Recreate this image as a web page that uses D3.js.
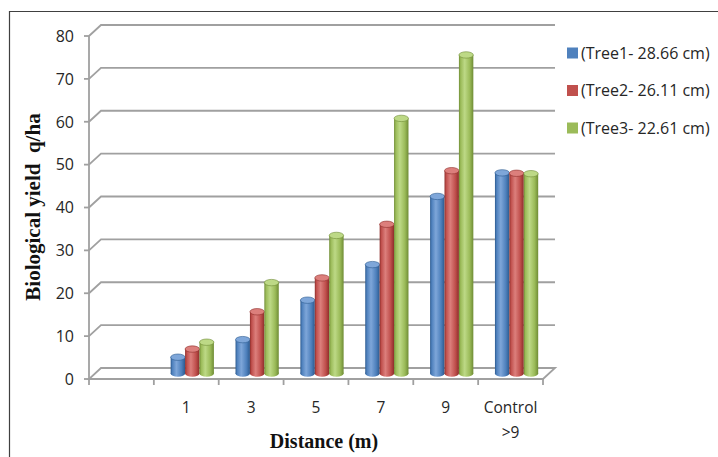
<!DOCTYPE html>
<html><head><meta charset="utf-8">
<script src="https://cdn.jsdelivr.net/npm/d3@7"></script>
<style>body{margin:0;background:#fff}svg{display:block}</style>
</head><body>
<svg id="c" width="718" height="457"></svg>
<script>
const categories = ["", "1", "3", "5", "7", "9", "Control\n>9"];
const seriesNames = ["(Tree1- 28.66 cm)", "(Tree2- 26.11 cm)", "(Tree3- 22.61 cm)"];
const tree1 = [null, 3.8, 7.9, 17.1, 25.4, 41.3, 46.8];
const tree2 = [null, 5.7, 14.4, 22.3, 34.8, 47.3, 46.7];
const tree3 = [null, 7.3, 21.2, 32.2, 59.5, 74.3, 46.6];
const yTicks = [0, 10, 20, 30, 40, 50, 60, 70, 80];
const colors = ["#4f81bd", "#c0504d", "#9bbb59"];
const darks = ["#2c5a8f", "#8e2d2a", "#6f8c35"];
const lights = ["#7ea6d9", "#dc7f7c", "#bdd986"];

const svg = d3.select("#c");
const DX = 12, DY = -11;
const x = d3.scaleBand().domain(categories).range([89, 543]);
const y = d3.scaleLinear().domain([0, 80]).range([379, 36]);
const bw = x.bandwidth();

// border
svg.append("path").attr("d", "M9.5,457 V11.5 H718").attr("fill", "none").attr("stroke", "#404040").attr("stroke-width", 1.2);

const grid = svg.append("g").attr("stroke", "#a0a0a0").attr("stroke-width", 1.8).attr("fill", "none");
yTicks.forEach(t => {
  const yy = y(t);
  if (t > 0) grid.append("path").attr("d", `M89,${yy} L${89 + DX},${yy + DY} H${543 + DX}`);
  grid.append("line").attr("x1", 84).attr("x2", 89).attr("y1", yy).attr("y2", yy);
});
// floor
grid.append("path").attr("d", `M89,${y(0)} H543 L${543 + DX},${y(0) + DY} H${89 + DX} Z`);
// y axis
grid.append("line").attr("x1", 89).attr("x2", 89).attr("y1", y(80)).attr("y2", y(0));
// category ticks
categories.concat(["end"]).forEach((c, i) => {
  const xx = 89 + i * bw;
  grid.append("line").attr("x1", xx).attr("x2", xx).attr("y1", y(0)).attr("y2", y(0) + 6);
});

// y tick labels
svg.append("g").selectAll("text").data(yTicks).join("text")
  .attr("x", 74).attr("y", d => y(d)).attr("dy", "0.36em").attr("text-anchor", "end")
  .attr("font-family", "Open Sans").attr("font-size", 16).attr("fill", "#262626").text(d => d);

// x labels
const xl = svg.append("g").attr("font-family", "Open Sans").attr("font-size", 15.5).attr("fill", "#262626").attr("text-anchor", "middle");
categories.forEach(c => {
  const lines = c.split("\n");
  lines.forEach((ln, k) => {
    xl.append("text").attr("x", x(c) + bw / 2).attr("y", 413 + k * 25).text(ln);
  });
});

// gradients
const defs = svg.append("defs");
colors.forEach((col, i) => {
  const g = defs.append("linearGradient").attr("id", "g" + i).attr("x1", 0).attr("x2", 1).attr("y1", 0).attr("y2", 0);
  g.append("stop").attr("offset", "0%").attr("stop-color", darks[i]);
  g.append("stop").attr("offset", "12%").attr("stop-color", col);
  g.append("stop").attr("offset", "40%").attr("stop-color", lights[i]);
  g.append("stop").attr("offset", "75%").attr("stop-color", col);
  g.append("stop").attr("offset", "100%").attr("stop-color", darks[i]);
});

// bars
const allSeries = [tree1, tree2, tree3];
const bars = svg.append("g");
const ox = DX / 2, oy = DY / 2;
categories.forEach((c, ci) => {
  const xs = d3.scaleBand().domain([0, 1, 2]).range([x(c) + bw * 0.75 / 4.5 + ox, x(c) + bw * 3.75 / 4.5 + ox]);
  allSeries.forEach((s, si) => {
    const v = s[ci];
    if (v == null) return;
    const w = xs.bandwidth();
    const x0 = xs(si);
    const top = y(v) + oy, base = y(0) + oy;
    const ry = 3.2;
    const g = bars.append("g");
    g.append("ellipse").attr("cx", x0 + w / 2).attr("cy", base).attr("rx", w / 2).attr("ry", ry).attr("fill", "url(#g" + si + ")");
    g.append("rect").attr("x", x0).attr("y", top).attr("width", w).attr("height", base - top).attr("fill", "url(#g" + si + ")");
    g.append("ellipse").attr("cx", x0 + w / 2).attr("cy", top).attr("rx", w / 2).attr("ry", ry).attr("fill", lights[si]).attr("stroke", darks[si]).attr("stroke-width", 0.6);
  });
});

// legend
const lg = svg.append("g").attr("font-family", "Open Sans").attr("font-size", 16).attr("fill", "#262626");
seriesNames.forEach((n, i) => {
  const yy = 53 + i * 37.5;
  lg.append("rect").attr("x", 567).attr("y", yy - 5.5).attr("width", 11).attr("height", 11).attr("fill", colors[i]);
  lg.append("text").attr("x", 581).attr("y", yy).attr("dy", "0.36em").text(n);
});

// axis titles
svg.append("text").attr("transform", "translate(40,207) rotate(-90)").attr("text-anchor", "middle")
  .attr("font-family", "Liberation Serif").attr("font-weight", "bold").attr("font-size", 21).attr("fill", "#111")
  .style("white-space", "pre").text("Biological yield  q/ha");
svg.append("text").attr("x", 324).attr("y", 448).attr("text-anchor", "middle")
  .attr("font-family", "Liberation Serif").attr("font-weight", "bold").attr("font-size", 20).attr("fill", "#111")
  .text("Distance (m)");
</script>
</body></html>
